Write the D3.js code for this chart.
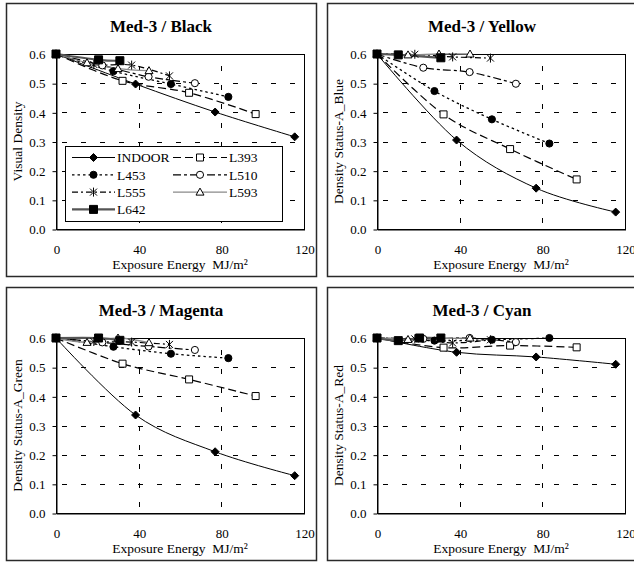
<!DOCTYPE html>
<html>
<head>
<meta charset="utf-8">
<script src="https://cdn.jsdelivr.net/npm/d3@7"></script>
<style>
  body { margin: 0; background: #fff; }
  svg { display: block; font-family: "Liberation Serif", "Times New Roman", serif; }
</style>
</head>
<body>
<svg id="chart" width="634" height="563"></svg>
<script>
// ---- data ----
const seriesNames = ["INDOOR", "L393", "L453", "L510", "L555", "L593", "L642"];

// exposure energy (MJ/m²) of each measured point, per series
const exposure = [
  [0, 38.5, 77, 115.5],
  [0, 32.2, 64.4, 96.6],
  [0, 27.8, 55.6, 83.4],
  [0, 22.4, 44.8, 67.2],
  [0, 18.3, 36.6, 54.9],
  [0, 15, 30, 45],
  [0, 10.3, 20.6, 30.9]
];

// densities, null = no point shown
const blackDensity = [
  [0.6, 0.497, 0.401, 0.316],
  [0.6, 0.508, 0.467, 0.394],
  [0.6, 0.541, 0.497, 0.453],
  [0.6, 0.561, 0.522, 0.5],
  [0.6, 0.564, 0.562, 0.525],
  [0.6, 0.57, 0.55, 0.543],
  [0.6, null, 0.58, 0.577]
];
const yellowDensity = [
  [0.6, 0.305, 0.14, 0.058],
  [0.6, 0.393, 0.274, 0.17],
  [0.6, 0.473, 0.376, 0.293],
  [0.6, 0.553, 0.538, 0.498],
  [0.6, 0.599, 0.59, 0.586],
  [0.6, 0.597, 0.6, 0.6],
  [0.6, 0.597, null, 0.587]
];
const magentaDensity = [
  [0.6, 0.336, 0.21, 0.128],
  [0.6, 0.512, 0.458, 0.401],
  [0.6, 0.57, 0.546, 0.531],
  [0.6, 0.585, 0.571, 0.559],
  [0.6, 0.588, 0.586, 0.578],
  [0.6, 0.585, 0.6, 0.584],
  [0.6, null, 0.6, 0.592]
];
const cyanDensity = [
  [0.6, 0.551, 0.535, 0.51],
  [0.6, 0.567, 0.574, 0.568],
  [0.6, 0.591, 0.594, 0.6],
  [0.6, 0.597, 0.6, 0.586],
  [0.6, 0.597, 0.583, 0.594],
  [0.6, 0.595, 0.598, 0.6],
  [0.6, 0.591, 0.6, 0.6]
];

const panelTitles = ["Med-3 / Black", "Med-3 / Yellow", "Med-3 / Magenta", "Med-3 / Cyan"];
const yTitles = ["Visual Density", "Density Status-A_Blue", "Density Status-A_Green", "Density Status-A_Red"];
const panelValues = [blackDensity, yellowDensity, magentaDensity, cyanDensity];
const xTitle = "Exposure Energy\u00a0 MJ/m²";
const xTicks = [0, 40, 80, 120];
const yTicks = [0, 0.1, 0.2, 0.3, 0.4, 0.5, 0.6];
const xGrid = [40, 80];
const yGrid = [0.1, 0.2, 0.3, 0.4, 0.5];

// ---- layout ----
const panelPos = [[6, 3], [327, 3], [6, 287], [327, 287]];
const W = 310, H = 273;
const m = { left: 50, top: 51, right: 298, bottom: 226 };

const x = d3.scaleLinear().domain([0, 120]).range([m.left, m.right]);
const y = d3.scaleLinear().domain([0, 0.6]).range([m.bottom, m.top]);

// line + marker style per series
const styles = [
  { stroke: "#000", width: 1, dash: null, marker: "diamond", fill: "#000" },
  { stroke: "#000", width: 1.2, dash: "8,4", marker: "square", fill: "#fff" },
  { stroke: "#000", width: 1.3, dash: "2.5,3", marker: "circle", fill: "#000" },
  { stroke: "#000", width: 1.2, dash: "8,3,3,3", marker: "circle", fill: "#fff" },
  { stroke: "#000", width: 1.2, dash: "6,3,2,3", marker: "star", fill: "none" },
  { stroke: "#8a8a8a", width: 1.3, dash: null, marker: "triangle", fill: "#fff" },
  { stroke: "#555", width: 2.2, dash: null, marker: "bigsquare", fill: "#000" }
];

const markerPath = {
  diamond: "M0,-4L4,0L0,4L-4,0Z",
  square: "M-3.5,-3.5H3.5V3.5H-3.5Z",
  bigsquare: "M-4,-4H4V4H-4Z",
  circle: d3.symbol(d3.symbolCircle, 40)(),
  triangle: "M0,-4L4,3L-4,3Z",
  star: "M-3.5,-3.5L3.5,3.5M-3.5,3.5L3.5,-3.5M0,-4.5V4.5"
};

const svg = d3.select("#chart");

const line = d3.line()
  .x(d => x(d[0]))
  .y(d => y(d[1]))
  .curve(d3.curveCardinal.tension(0));

function drawMarker(sel, i) {
  const s = styles[i];
  sel.append("path")
    .attr("d", markerPath[s.marker])
    .attr("fill", s.fill)
    .attr("stroke", "#000")
    .attr("stroke-width", 1);
}

panelPos.forEach((pos, p) => {
  const g = svg.append("g").attr("transform", `translate(${pos[0]},${pos[1]})`);

  // chart area border
  g.append("rect")
    .attr("x", 0.5).attr("y", 0.5)
    .attr("width", W).attr("height", H)
    .attr("fill", "#fff")
    .attr("stroke", "#2a2a2a")
    .attr("stroke-width", 1.5);

  // title
  g.append("text")
    .attr("x", W / 2).attr("y", 29)
    .attr("text-anchor", "middle")
    .attr("font-size", 17)
    .attr("font-weight", "bold")
    .text(panelTitles[p]);

  // gridlines
  g.selectAll(".hgrid")
    .data(yGrid)
    .join("line")
    .attr("x1", m.left).attr("x2", m.right)
    .attr("y1", d => Math.round(y(d)) + 0.5).attr("y2", d => Math.round(y(d)) + 0.5)
    .attr("stroke", "#000")
    .attr("stroke-dasharray", "5,14")
    .attr("stroke-dashoffset", 13);

  g.selectAll(".vgrid")
    .data(xGrid)
    .join("line")
    .attr("x1", d => Math.round(x(d)) + 0.5).attr("x2", d => Math.round(x(d)) + 0.5)
    .attr("y1", m.bottom).attr("y2", m.top)
    .attr("stroke", "#000")
    .attr("stroke-dasharray", "5,14")
    .attr("stroke-dashoffset", 13);

  // plot area border (top / right)
  g.append("rect")
    .attr("x", m.left + 0.5).attr("y", m.top + 0.5)
    .attr("width", m.right - m.left).attr("height", m.bottom - m.top)
    .attr("fill", "none")
    .attr("stroke", "#000");

  // axes
  const yAxis = g.append("g")
    .attr("transform", `translate(${m.left + 0.5},0.5)`)
    .call(d3.axisLeft(y).tickValues(yTicks).tickFormat(d3.format(".1f")).tickSize(4).tickSizeOuter(0).tickPadding(7));
  const xAxis = g.append("g")
    .attr("transform", `translate(0.5,${m.bottom + 0.5})`)
    .call(d3.axisBottom(x).tickValues(xTicks).tickSize(0).tickPadding(15));
  [xAxis, yAxis].forEach(a => {
    a.attr("font-family", null).attr("font-size", 13);
    a.selectAll("text").attr("fill", "#000");
    a.selectAll("line, path").attr("stroke", "#000");
  });

  // axis titles
  g.append("text")
    .attr("x", (m.left + m.right) / 2).attr("y", 266)
    .attr("text-anchor", "middle")
    .attr("font-size", 13.5)
    .text(xTitle);

  g.append("text")
    .attr("transform", `translate(16,${(m.top + m.bottom) / 2}) rotate(-90)`)
    .attr("text-anchor", "middle")
    .attr("font-size", 13.5)
    .text(yTitles[p]);

  // series
  const values = panelValues[p];
  const series = seriesNames.map((name, i) =>
    exposure[i].map((e, k) => [e, values[i][k]]).filter(d => d[1] != null));

  series.forEach((pts, i) => {
    const s = styles[i];
    g.append("path")
      .attr("d", line(pts))
      .attr("fill", "none")
      .attr("stroke", s.stroke)
      .attr("stroke-width", s.width)
      .attr("stroke-dasharray", s.dash);
  });
  series.forEach((pts, i) => {
    g.selectAll(null)
      .data(pts)
      .join("g")
      .attr("transform", d => `translate(${x(d[0])},${y(d[1])})`)
      .each(function () { drawMarker(d3.select(this), i); });
  });

  // legend (first panel only)
  if (p === 0) {
    const lg = g.append("g").attr("transform", "translate(59,143)");
    lg.append("rect")
      .attr("x", 0.5).attr("y", 0.5)
      .attr("width", 217).attr("height", 75)
      .attr("fill", "#fff")
      .attr("stroke", "#000");
    seriesNames.forEach((name, i) => {
      const col = i % 2, row = Math.floor(i / 2);
      const x0 = col ? 108 : 7, x1 = col ? 162 : 50;
      const cy = 11.5 + row * 17.3;
      const s = styles[i];
      const item = lg.append("g");
      item.append("line")
        .attr("x1", x0).attr("x2", x1)
        .attr("y1", cy).attr("y2", cy)
        .attr("stroke", s.stroke)
        .attr("stroke-width", s.width)
        .attr("stroke-dasharray", s.dash);
      drawMarker(item.append("g").attr("transform", `translate(${(x0 + x1) / 2},${cy})`), i);
      item.append("text")
        .attr("x", x1 + 2).attr("y", cy)
        .attr("dy", "0.35em")
        .attr("font-size", 13.5)
        .text(name);
    });
  }
});
</script>
</body>
</html>
